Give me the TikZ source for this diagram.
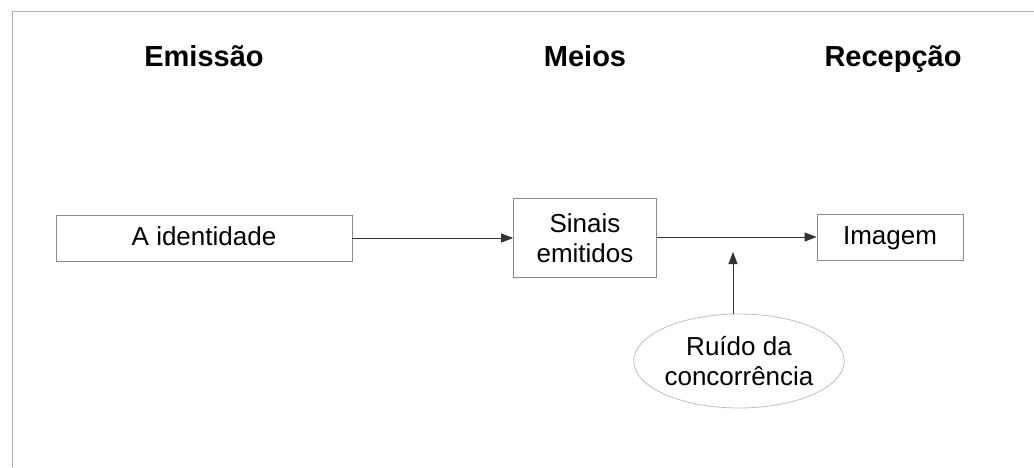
\documentclass[tikz,border=0pt]{standalone}
\usepackage{fontspec}
\setmainfont{Liberation Sans}
\usetikzlibrary{shapes.geometric, arrows.meta, positioning}

\begin{document}
\begin{tikzpicture}[
  x=0.5pt, y=-0.5pt,
  font=\fontsize{13}{15}\selectfont,
  heading/.style={font=\fontsize{14.5}{17}\selectfont\bfseries, anchor=base},
  box/.style={rectangle, draw=black!45, align=center, inner sep=0pt},
  oneline/.style={box, text height=9.5pt, text depth=2.5pt},
  noise/.style={ellipse, draw=black!25, align=center, inner sep=0pt,
                minimum width=102pt, minimum height=47pt},
  flow/.style={-{Triangle[length=6pt, width=4.5pt]}, black!80, line width=0.4pt},
  frame/.style={black!30, line width=0.5pt},
]
  \useasboundingbox (0,0) rectangle (1034,467);

  % --- outer frame (cut at right and bottom) ---
  \draw[frame] (12,467) -- (12,11) -- (1034,11);

  % --- column headings ---
  \node[heading] (emissao) at (204,66) {Emissão};
  \node[heading] (meios) at (585,66) {Meios};
  \node[heading] (recepcao) at (893,66) {Recepção};

  % --- boxes ---
  \node[oneline, minimum width=148pt, minimum height=23pt] (ident) at (204,238) {A identidade};
  \node[box, minimum width=71.5pt, minimum height=39.5pt] (sinais) at (585,238) {Sinais\\emitidos};
  \node[oneline, minimum width=73pt, minimum height=23pt] (imagem) at (890,237) {Imagem};

  % --- noise ---
  \node[noise] (ruido) at (739,361) {Ruído da\\concorrência};
  \coordinate (hit) at (733,252);

  % --- connectors ---
  \draw[flow] (ident.east) -- (sinais.west |- ident.east);
  \draw[flow] (sinais.east |- imagem.west) -- (imagem.west);
  \draw[flow] (hit |- ruido.north) -- (hit);
\end{tikzpicture}
\end{document}
